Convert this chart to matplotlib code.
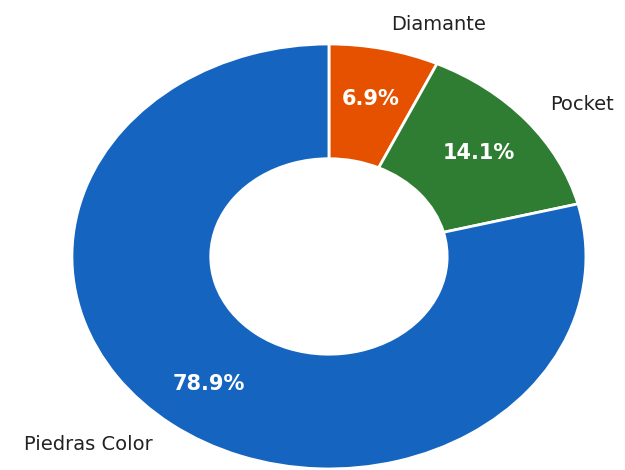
import matplotlib
matplotlib.use("Agg")
import matplotlib.pyplot as plt

# datos del gráfico
categorias = ["Diamante", "Pocket", "Piedras Color"]
porcentajes = [6.9, 14.1, 78.9]
colores = ["#E65100", "#2E7D32", "#1565C0"]

fig = plt.figure(figsize=(6.25, 4.7), dpi=100)
ax = fig.add_axes([0, 0, 1, 1])

etiquetas_pct = iter(porcentajes)
wedges, textos, autotextos = ax.pie(
    porcentajes,
    labels=categorias,
    colors=colores,
    startangle=90,
    counterclock=False,
    labeldistance=1.12,
    pctdistance=0.76,
    autopct=lambda p: f"{next(etiquetas_pct):.1f}%",
    wedgeprops=dict(width=0.54, edgecolor="white", linewidth=2),
    textprops=dict(fontsize=14, color="#222222"),
)

for t in autotextos:
    t.set_color("white")
    t.set_fontweight("bold")
    t.set_fontsize(15)

# el original está estirado en horizontal
ax.set_aspect("auto")
ax.set_xlim(-1.280, 1.152)
ax.set_ylim(-1.005, 1.207)
ax.axis("off")

fig.savefig("out.png", dpi=100)
